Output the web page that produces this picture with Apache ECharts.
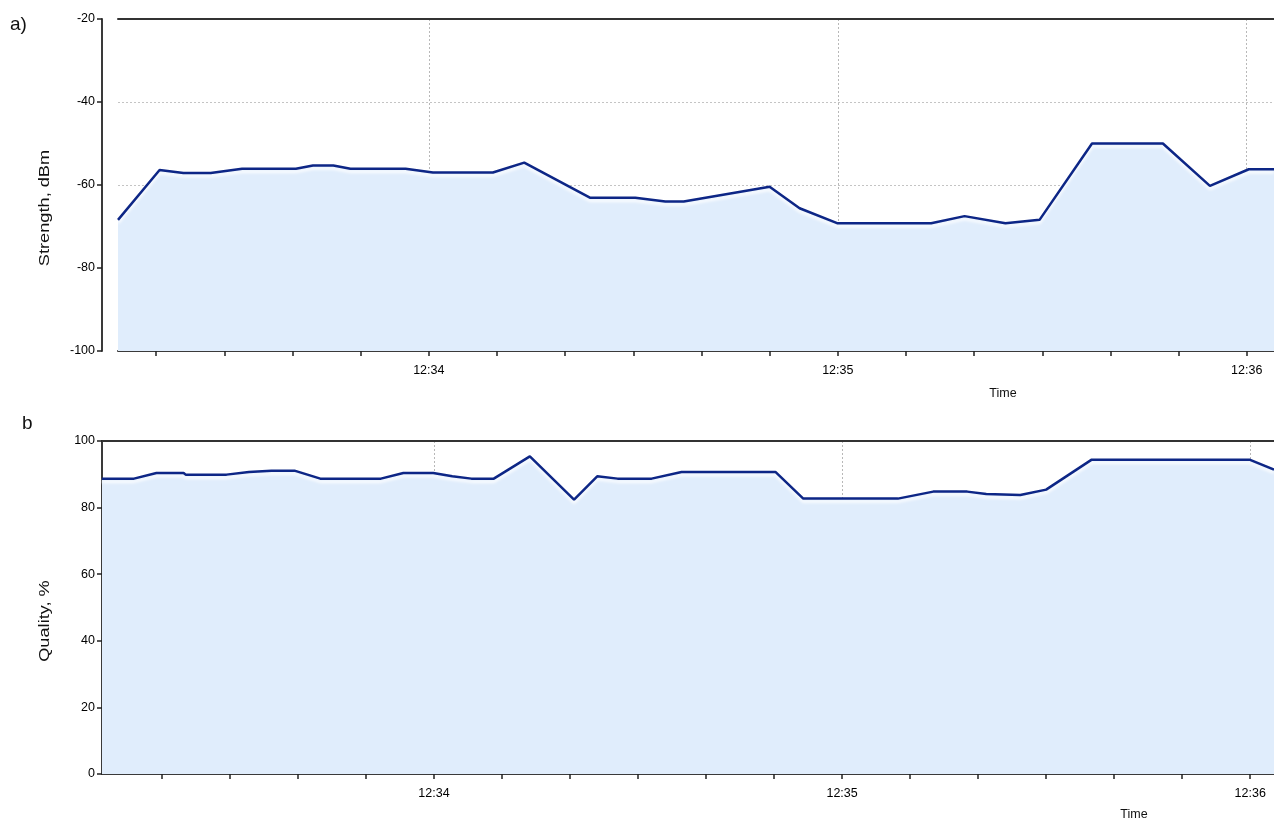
<!DOCTYPE html>
<html>
<head>
<meta charset="utf-8">
<script src="https://cdn.jsdelivr.net/npm/echarts@6/dist/echarts.min.js"></script>
<style>
html,body{margin:0;padding:0;background:#fff;}
#chart{width:1274px;height:818px;}
</style>
</head>
<body>
<div id="chart"></div>
<script>
// Time values are seconds after 12:33:00
const strengthTime = [14.4, 20.5, 24.0, 28.0, 32.6, 40.5, 43.0, 46.0, 48.5, 56.6, 60.6, 69.4, 74.0, 83.7, 90.3, 94.7, 97.4, 110.0, 114.4, 119.9, 133.7, 138.6, 144.6, 149.6, 157.3, 167.7, 174.6, 180.3, 184.0];
const strengthValue = [-68.4, -56.4, -57.1, -57.1, -56.1, -56.1, -55.3, -55.3, -56.1, -56.1, -57.0, -57.0, -54.6, -63.1, -63.1, -64.0, -64.0, -60.4, -65.6, -69.2, -69.2, -67.5, -69.2, -68.4, -50.0, -50.0, -60.2, -56.2, -56.2];

const qualityTime = [11.2, 15.9, 19.2, 23.2, 23.5, 29.5, 32.8, 36.1, 39.5, 43.3, 52.2, 55.5, 59.9, 62.7, 65.5, 68.8, 74.1, 80.6, 84.0, 87.0, 92.0, 96.4, 110.2, 114.3, 128.2, 133.4, 138.4, 141.2, 146.2, 150.0, 156.7, 179.9, 183.5];
const qualityValue = [88.7, 88.7, 90.4, 90.4, 89.9, 89.9, 90.7, 91.1, 91.1, 88.7, 88.7, 90.4, 90.4, 89.4, 88.7, 88.7, 95.4, 82.4, 89.4, 88.7, 88.7, 90.7, 90.7, 82.7, 82.7, 84.8, 84.8, 84.1, 83.8, 85.4, 94.4, 94.4, 91.4];

const minorTicks = [20, 30, 40, 50, 60, 70, 80, 90, 100, 110, 120, 130, 140, 150, 160, 170, 180];
const majorTicks = [60, 120, 180];
const timeLabel = v => '12:' + String(33 + Math.round(v / 60));

const fontFamily = 'Liberation Sans, Arial, sans-serif';
const axisColor = '#3a3a3a';
const lineColor = '#0d2686';
const fillColor = '#e0edfc';

function zip(a, b) { return a.map((t, i) => [t, b[i]]); }

function bottomX(grid, min, max) {
  return {
    gridIndex: grid, type: 'value', min: min, max: max, position: 'bottom',
    axisLine: { show: true, onZero: false, lineStyle: { color: axisColor, width: 2 } },
    axisTick: { show: true, customValues: minorTicks, length: 5, lineStyle: { color: '#222', width: 1.5 } },
    axisLabel: { customValues: majorTicks, formatter: timeLabel, margin: 13, fontSize: 12.5, color: '#000', fontFamily: fontFamily },
    splitLine: { show: false }
  };
}
function topX(grid, min, max) {
  return {
    gridIndex: grid, type: 'value', min: min, max: max, position: 'top',
    axisLine: { show: true, onZero: false, lineStyle: { color: '#333', width: 2 } },
    axisTick: { show: false, customValues: majorTicks },
    axisLabel: { show: false },
    splitLine: { show: true, lineStyle: { type: [2, 2], color: '#b8b8b8', width: 1 } }
  };
}
function yAx(grid, min, max, offset) {
  return {
    gridIndex: grid, type: 'value', min: min, max: max, interval: 20, offset: offset,
    axisLine: { show: true, onZero: false, lineStyle: { color: axisColor, width: 2 } },
    axisTick: { show: true, length: 5, lineStyle: { color: '#222', width: 1.5 } },
    axisLabel: { margin: 7, fontSize: 12.5, color: '#000', fontFamily: fontFamily },
    splitLine: { show: true, lineStyle: { type: [2, 2], color: '#c4c4c4', width: 1 } }
  };
}
function lineSeries(xi, yi, data) {
  return {
    type: 'line', xAxisIndex: xi, yAxisIndex: yi, data: data,
    showSymbol: false, symbol: 'none', animation: false,
    lineStyle: { color: lineColor, width: 2.5, shadowColor: 'rgba(255,255,255,0.95)', shadowBlur: 3, shadowOffsetY: 3 },
    areaStyle: { color: fillColor, origin: 'start', opacity: 1 },
    z: 3
  };
}
function vName(text, x, y) {
  return { type: 'text', x: x, y: y, rotation: Math.PI / 2, scaleX: 1.3,
    style: { text: text, fontSize: 14, fill: '#111', fontFamily: fontFamily, align: 'center', verticalAlign: 'middle' } };
}

const chart = echarts.init(document.getElementById('chart'), null, { renderer: 'canvas' });
chart.setOption({
  animation: false,
  backgroundColor: '#fff',
  grid: [
    { left: 118, right: 0, top: 19, height: 332 },
    { left: 102, right: 0, top: 441, height: 333 }
  ],
  xAxis: [
    bottomX(0, 14.4, 184.0),
    topX(0, 14.4, 184.0),
    bottomX(1, 11.2, 183.5),
    topX(1, 11.2, 183.5)
  ],
  yAxis: [
    yAx(0, -100, -20, 16),
    yAx(1, 0, 100, 0)
  ],
  series: [
    lineSeries(0, 0, zip(strengthTime, strengthValue)),
    lineSeries(2, 1, zip(qualityTime, qualityValue))
  ],
  graphic: [
    { type: 'text', left: 10, top: 15, style: { text: 'a)', fontSize: 19, fill: '#111', fontFamily: fontFamily } },
    { type: 'text', left: 22, top: 414, style: { text: 'b', fontSize: 19, fill: '#111', fontFamily: fontFamily } },
    vName('Strength, dBm', 45, 208),
    vName('Quality, %', 45, 621),
    { type: 'text', x: 1003, y: 394, style: { text: 'Time', fontSize: 12.5, fill: '#111', fontFamily: fontFamily, align: 'center', verticalAlign: 'middle' } },
    { type: 'text', x: 1134, y: 815, style: { text: 'Time', fontSize: 12.5, fill: '#111', fontFamily: fontFamily, align: 'center', verticalAlign: 'middle' } }
  ]
});
</script>
</body>
</html>
